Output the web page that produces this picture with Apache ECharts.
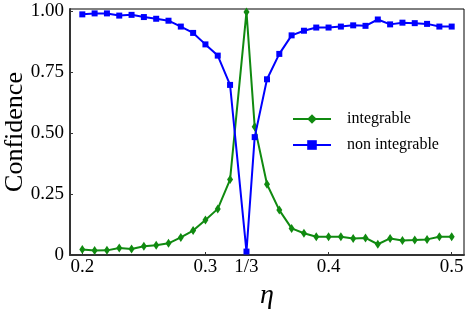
<!DOCTYPE html>
<html>
<head>
<meta charset="utf-8">
<script src="https://cdn.jsdelivr.net/npm/echarts@6/dist/echarts.min.js"></script>
<style>html,body{margin:0;padding:0;background:#fff;}#c{width:469px;height:311px;}</style>
</head>
<body>
<div id="c"></div>
<script>
const etaValues = [0.20,0.21,0.22,0.23,0.24,0.25,0.26,0.27,0.28,0.29,0.30,0.31,0.32,1/3,0.34,0.35,0.36,0.37,0.38,0.39,0.40,0.41,0.42,0.43,0.44,0.45,0.46,0.47,0.48,0.49,0.50];
const integrable = [0.023,0.018,0.019,0.029,0.025,0.036,0.040,0.048,0.072,0.100,0.143,0.189,0.309,0.996,0.526,0.290,0.184,0.109,0.089,0.075,0.075,0.075,0.068,0.070,0.044,0.068,0.059,0.061,0.064,0.075,0.075];
const nonIntegrable = [0.986,0.990,0.990,0.981,0.984,0.975,0.968,0.960,0.936,0.910,0.863,0.817,0.697,0.014,0.483,0.720,0.824,0.900,0.919,0.932,0.932,0.936,0.941,0.939,0.965,0.945,0.952,0.950,0.947,0.936,0.936];
const xTicks = [0.2,0.3,1/3,0.4,0.5];
const yTicks = [0,0.25,0.5,0.75,1.0];
const seriesNames = ['integrable','non integrable'];

const font = 'Liberation Serif, Times New Roman, serif';
const chart = echarts.init(document.getElementById('c'), null, {renderer:'canvas'});
chart.setOption({
  animation:false,
  backgroundColor:'#fff',
  grid:{left:70,right:5,top:9,bottom:56,show:true,borderColor:'#000',borderWidth:1,containLabel:false,outerBoundsMode:'none'},
  legend:{
    show:true, orient:'vertical', left:287, top:106,
    itemWidth:38, itemHeight:12, itemGap:10,
    textStyle:{fontFamily:font,fontSize:16,color:'#000',padding:[0,0,0,11]},
    data:seriesNames
  },
  xAxis:{
    type:'value', min:0.19, max:0.51,
    name:'η', nameLocation:'middle', nameGap:27, nameMoveOverlap:false,
    nameTextStyle:{fontFamily:font,fontSize:28,fontStyle:'italic',color:'#000'},
    axisLine:{show:true,onZero:false,lineStyle:{color:'#333',width:2}},
    axisTick:{show:true,inside:true,length:3,customValues:xTicks,lineStyle:{color:'#333'}},
    axisLabel:{customValues:xTicks,margin:3,fontFamily:font,fontSize:19,color:'#000',
      formatter:v=>Math.abs(v-1/3)<1e-6?'1/3':v.toFixed(1)},
    splitLine:{show:false}
  },
  yAxis:{
    type:'value', min:0, max:1.008,
    name:'Confidence', nameLocation:'middle', nameGap:42, nameMoveOverlap:false,
    nameTextStyle:{fontFamily:font,fontSize:26,color:'#000'},
    axisLine:{show:true,lineStyle:{color:'#333',width:2}},
    axisTick:{show:true,inside:true,length:3,customValues:yTicks,lineStyle:{color:'#333'}},
    axisLabel:{customValues:yTicks,margin:6,fontFamily:font,fontSize:19,color:'#000',
      formatter:v=>v===0?'0':v.toFixed(2)},
    splitLine:{show:false}
  },
  series:[
    {name:seriesNames[0],type:'line',data:etaValues.map((x,i)=>[x,integrable[i]]),
     color:'#108a10',symbol:'diamond',symbolSize:[6,9],showAllSymbol:true,
     lineStyle:{width:2,color:'#108a10'},itemStyle:{color:'#108a10'},z:2},
    {name:seriesNames[1],type:'line',data:etaValues.map((x,i)=>[x,nonIntegrable[i]]),
     color:'#0000ff',symbol:'rect',symbolSize:6,showAllSymbol:true,
     lineStyle:{width:2,color:'#0000ff'},itemStyle:{color:'#0000ff'},z:3}
  ]
});
</script>
</body>
</html>
